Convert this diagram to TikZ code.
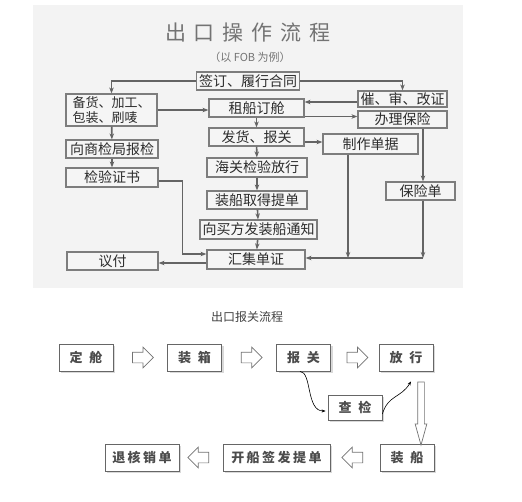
\documentclass[tikz,border=0pt]{standalone}
\usepackage{fontspec}
\setmainfont{Noto Sans CJK SC}
\usetikzlibrary{arrows.meta,shapes.arrows,shadows,calc}
\definecolor{panel}{RGB}{243,243,243}
\definecolor{boxline}{RGB}{125,125,125}
\definecolor{conn}{RGB}{100,100,100}
\definecolor{txt}{RGB}{45,45,45}
\tikzset{
  topbox/.style={draw=boxline,line width=1.2pt,fill=white!96!black,inner sep=0pt,text=txt,font=\fontsize{14}{15}\selectfont},
  flowline/.style={draw=conn,line width=1.6pt,-{Stealth[length=6pt,width=4.5pt]}},
  stepbox/.style={draw=black!60,line width=0.8pt,fill=white,minimum width=54pt,minimum height=27pt,inner sep=0pt,text=black!70,font=\fontsize{13}{13}\selectfont\bfseries,drop shadow={shadow xshift=2pt,shadow yshift=-2pt,opacity=0.3}},
  hollowarrow/.style={single arrow,draw=black!55,fill=white,line width=0.7pt,inner xsep=0pt,inner ysep=5pt,minimum height=21pt,single arrow head extend=5pt},
  curvearrow/.style={black,line width=0.6pt,-{Stealth[length=4pt,width=3pt]}}
}
\begin{document}
\begin{tikzpicture}[x=1pt,y=-1pt]
\useasboundingbox (0,0) rectangle (522,501);
% upper panel: export operation
\fill[panel] (33,5) rectangle (463,288);
\node[text=black!55,font=\fontsize{21}{21}\selectfont] (title) at (248,33) {出\hspace{8pt}口\hspace{8pt}操\hspace{8pt}作\hspace{8pt}流\hspace{8pt}程};
\node[text=black!55,font=\fontsize{11}{11}\selectfont] (subtitle) at (250,57) {（以 FOB 为例）};

\node[topbox,minimum width=103pt,minimum height=18pt] (qianding) at (248,81) {签订、履行合同};
\node[topbox,minimum width=91pt,minimum height=32pt,align=left,font=\fontsize{13}{15}\selectfont] (beihuo) at (111.5,110) {备货、加工、\\包装、刷唛};
\node[topbox,minimum width=95pt,minimum height=18pt] (zuchuan) at (256.5,108) {租船订舱};
\node[topbox,minimum width=89pt,minimum height=16pt] (cuishen) at (402.5,99) {催、审、改证};
\node[topbox,minimum width=89pt,minimum height=17pt] (banli) at (402.5,119.5) {办理保险};
\node[topbox,minimum width=95pt,minimum height=18pt] (fahuo) at (256.5,137) {发货、报关};
\node[topbox,minimum width=95pt,minimum height=20pt] (zhizuo) at (370.5,144) {制作单据};
\node[topbox,minimum width=92pt,minimum height=18pt] (baojian) at (112,149) {向商检局报检};
\node[topbox,minimum width=92pt,minimum height=19pt] (jianyan) at (112,177.5) {检验证书};
\node[topbox,minimum width=100pt,minimum height=19pt] (haiguan) at (257,167.5) {海关检验放行};
\node[topbox,minimum width=69pt,minimum height=18pt] (baoxiandan) at (420.5,191) {保险单};
\node[topbox,minimum width=100pt,minimum height=18pt] (tidan) at (257,200) {装船取得提单};
\node[topbox,minimum width=117pt,minimum height=19pt] (tongzhi) at (258.5,229.5) {向买方发装船通知};
\node[topbox,minimum width=98pt,minimum height=19pt] (huiji) at (256,259.5) {汇集单证};
\node[topbox,minimum width=91pt,minimum height=18pt] (yifu) at (112.5,261) {议付};

\draw[flowline] (qianding.west) -| (beihuo.north);
\draw[flowline] (qianding.east) -| (cuishen.north);
\draw[flowline] (beihuo.east) -- (beihuo.east -| zuchuan.west);
\draw[flowline] ([yshift=-3pt]cuishen.west) -- ([yshift=-3pt]cuishen.west -| zuchuan.east);
\draw[flowline] ([yshift=-8.5pt]zuchuan.east) -- ([yshift=-8.5pt]zuchuan.east -| banli.west);
\draw[flowline] (zuchuan) -- (fahuo);
\draw[flowline] ([yshift=-5pt]fahuo.east) -- ([yshift=-5pt]fahuo.east -| zhizuo.west);
\draw[flowline] (fahuo) -- (haiguan);
\draw[flowline] (haiguan) -- (tidan);
\draw[flowline] (tidan) -- (tongzhi);
\draw[flowline] (tongzhi) -- (huiji);
\draw[flowline] (beihuo) -- (baojian);
\draw[flowline] (baojian) -- (jianyan);
\draw[flowline] ([yshift=-3.5pt]jianyan.east) -- ++(24,0) |- ([yshift=5.5pt]huiji.west);
\draw[flowline] ([yshift=-3.5pt]huiji.west) -- ([yshift=-3.5pt]huiji.west -| yifu.east);
\draw[flowline] ([xshift=2.5pt]baoxiandan.north |- banli.south) -- ([xshift=2.5pt]baoxiandan.north);
\coordinate (hjin) at ([yshift=1.5pt]huiji.east);
\draw[flowline] ([xshift=-22.5pt]zhizuo.south) -- ([xshift=-22.5pt]zhizuo.south |- hjin);
\draw[flowline] ([xshift=2.5pt]baoxiandan.south) -- ([xshift=2.5pt]baoxiandan.south |- hjin);
\draw[flowline] ([xshift=2.5pt]baoxiandan.south |- hjin) -- (hjin);

% lower part: customs declaration
\node[text=black!75,font=\fontsize{12}{12}\selectfont] (title2) at (247,317) {出口报关流程};
\node[stepbox] (dingcang) at (86,357.5) {定\hspace{7pt}舱};
\node[stepbox] (zhuangxiang) at (194.5,357.5) {装\hspace{7pt}箱};
\node[stepbox] (baoguan) at (303.5,357.5) {报\hspace{7pt}关};
\node[stepbox] (fangxing) at (406,357.5) {放\hspace{7pt}行};
\node[stepbox,minimum height=25pt] (chajian) at (355,407.5) {查\hspace{7pt}检};
\node[stepbox] (zhuangchuan) at (407,457.5) {装\hspace{7pt}船};
\node[stepbox,minimum width=107pt] (kaichuan) at (276.5,457.5) {开\hspace{2.5pt}船\hspace{2.5pt}签\hspace{2.5pt}发\hspace{2.5pt}提\hspace{2.5pt}单};
\node[stepbox,minimum width=74pt] (tuihe) at (142,457.5) {退\hspace{2.5pt}核\hspace{2.5pt}销\hspace{2.5pt}单};

\node[hollowarrow] (a1) at ($(dingcang.east)!0.5!(zhuangxiang.west)$) {};
\node[hollowarrow] (a2) at ($(zhuangxiang.east)!0.5!(baoguan.west)$) {};
\node[hollowarrow] (a3) at ($(baoguan.east)!0.5!(fangxing.west)$) {};
\node[hollowarrow,rotate=180] (a4) at ($(zhuangchuan.west)!0.5!(kaichuan.east)$) {};
\node[hollowarrow,rotate=180] (a5) at ($(kaichuan.west)!0.5!(tuihe.east)$) {};
\node[hollowarrow,rotate=-90,inner ysep=3pt,single arrow head extend=2.5pt,single arrow tip angle=31,minimum height=63pt] (a6) at ($(fangxing.south)!0.5!(zhuangchuan.north)+(14.5,0)$) {};

\coordinate (fxin) at ([xshift=5pt,yshift=-10pt]fangxing.south);
\draw[curvearrow] ([xshift=-3.5pt]baoguan.south) .. controls (312,372) and (306,411) .. ([xshift=-2pt,yshift=-3.5pt]chajian.west);
\draw[curvearrow] ([yshift=-6.5pt]chajian.east) .. controls (388,395) and (401,398) .. (fxin);
\end{tikzpicture}
\end{document}
